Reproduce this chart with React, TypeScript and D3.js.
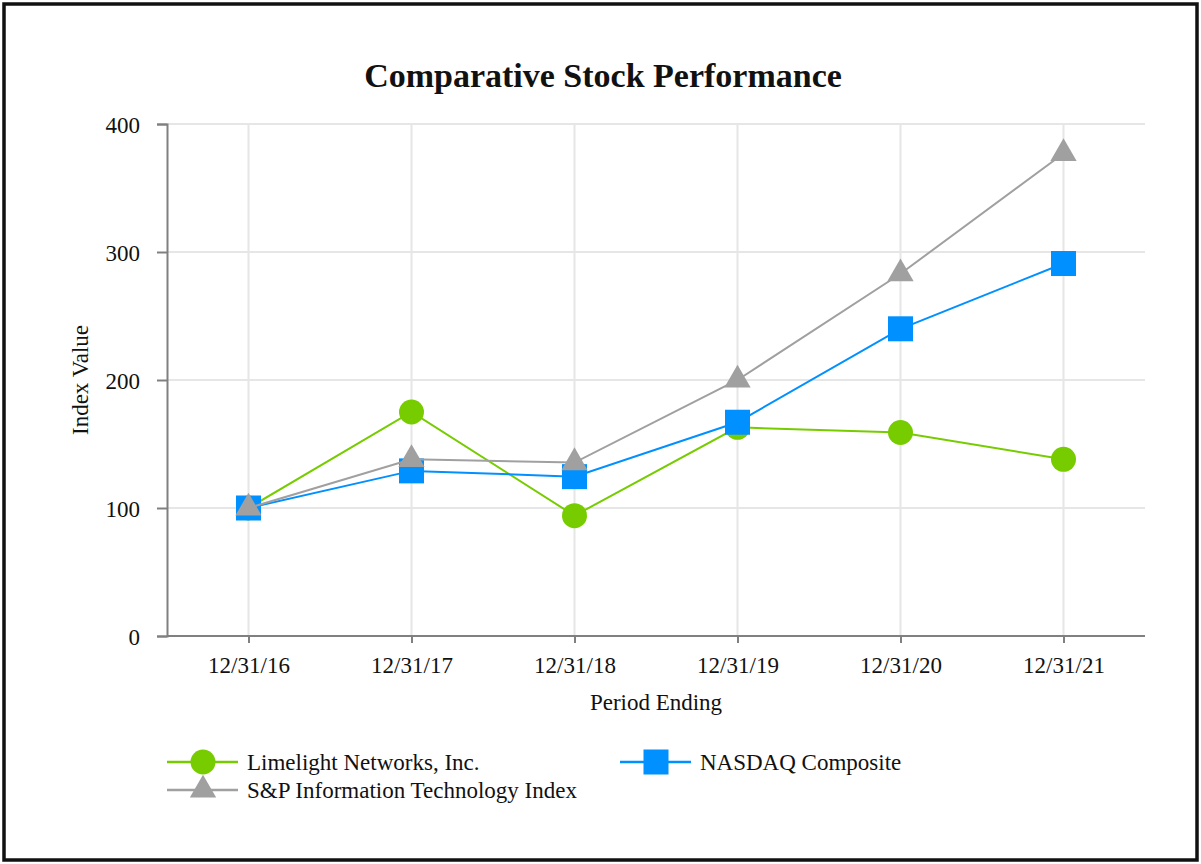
import React, { useRef, useEffect } from "react";
import * as d3 from "d3";

const periods = ["12/31/16", "12/31/17", "12/31/18", "12/31/19", "12/31/20", "12/31/21"];
const limelight = [100, 175, 94, 163, 159, 138];
const nasdaq = [100, 129, 124.5, 167, 240, 291];
const spIT = [100, 138, 135.5, 200, 283, 377];
const yTicks = [0, 100, 200, 300, 400];

const seriesList = [
  { name: "Limelight Networks, Inc.", values: limelight, color: "#77cc00", shape: "circle" },
  { name: "S&P Information Technology Index", values: spIT, color: "#a0a0a0", shape: "triangle" },
  { name: "NASDAQ Composite", values: nasdaq, color: "#0090ff", shape: "square" },
];

const FONT = "'Liberation Serif', 'Times New Roman', serif";
const FS = 23;

const App = () => {
  const svgRef = useRef<SVGSVGElement>(null);

  useEffect(() => {
    const svg = d3.select(svgRef.current);
    svg.selectAll("*").remove();

    const width = 1201;
    const height = 864;
    const margin = { top: 124, right: 56, bottom: 228, left: 167 };

    // frame
    svg
      .append("rect")
      .attr("x", 4)
      .attr("y", 4)
      .attr("width", width - 8)
      .attr("height", height - 8)
      .attr("fill", "white")
      .attr("stroke", "#111")
      .attr("stroke-width", 3.5);

    const x = d3
      .scalePoint<string>()
      .domain(periods)
      .range([margin.left, width - margin.right])
      .padding(0.5);

    const y = d3
      .scaleLinear()
      .domain([0, 400])
      .range([height - margin.bottom, margin.top]);

    // grid
    svg
      .append("g")
      .selectAll("line.h")
      .data(yTicks.slice(1))
      .join("line")
      .attr("x1", margin.left)
      .attr("x2", width - margin.right)
      .attr("y1", (d) => y(d))
      .attr("y2", (d) => y(d))
      .attr("stroke", "#e6e6e6")
      .attr("stroke-width", 2);

    svg
      .append("g")
      .selectAll("line.v")
      .data(periods)
      .join("line")
      .attr("x1", (d) => x(d)!)
      .attr("x2", (d) => x(d)!)
      .attr("y1", margin.top)
      .attr("y2", height - margin.bottom)
      .attr("stroke", "#e6e6e6")
      .attr("stroke-width", 2);

    // axes
    const yAxis = svg
      .append("g")
      .attr("transform", `translate(${margin.left},0)`)
      .call(d3.axisLeft(y).tickValues(yTicks).tickSize(10).tickPadding(17));
    yAxis.select(".domain").attr("stroke", "#808080").attr("stroke-width", 2);
    yAxis.selectAll(".tick line").attr("stroke", "#808080").attr("stroke-width", 2);
    yAxis
      .selectAll(".tick text")
      .attr("font-family", FONT)
      .attr("font-size", FS)
      .attr("fill", "#111")
      .attr("dy", "0.35em");

    const xAxis = svg
      .append("g")
      .attr("transform", `translate(0,${height - margin.bottom})`)
      .call(d3.axisBottom(x).tickSize(7).tickSizeOuter(0).tickPadding(14));
    xAxis
      .select(".domain")
      .attr("d", `M${margin.left},0H${width - margin.right}`)
      .attr("stroke", "#808080")
      .attr("stroke-width", 2);
    xAxis.selectAll(".tick line").attr("stroke", "#808080").attr("stroke-width", 2);
    xAxis
      .selectAll(".tick text")
      .attr("font-family", FONT)
      .attr("font-size", FS)
      .attr("fill", "#111");

    // title and axis labels
    svg
      .append("text")
      .attr("x", 603)
      .attr("y", 87)
      .attr("text-anchor", "middle")
      .attr("font-family", FONT)
      .attr("font-weight", "bold")
      .attr("font-size", 34)
      .attr("fill", "#111")
      .text("Comparative Stock Performance");

    svg
      .append("text")
      .attr("transform", `translate(88,${(margin.top + height - margin.bottom) / 2}) rotate(-90)`)
      .attr("text-anchor", "middle")
      .attr("font-family", FONT)
      .attr("font-size", FS)
      .attr("fill", "#111")
      .text("Index Value");

    svg
      .append("text")
      .attr("x", (margin.left + width - margin.right) / 2)
      .attr("y", 710)
      .attr("text-anchor", "middle")
      .attr("font-family", FONT)
      .attr("font-size", FS)
      .attr("fill", "#111")
      .text("Period Ending");

    const drawMarker = (g: any, shape: string, color: string, cx: number, cy: number) => {
      if (shape === "circle") {
        g.append("circle").attr("cx", cx).attr("cy", cy).attr("r", 12.5).attr("fill", color);
      } else if (shape === "square") {
        g.append("rect")
          .attr("x", cx - 12.5)
          .attr("y", cy - 12.5)
          .attr("width", 25)
          .attr("height", 25)
          .attr("fill", color);
      } else {
        g.append("path")
          .attr("d", d3.symbol(d3.symbolTriangle, 300)())
          .attr("transform", `translate(${cx},${cy})`)
          .attr("fill", color);
      }
    };

    const line = d3
      .line<number>()
      .x((_, i) => x(periods[i])!)
      .y((d) => y(d));

    // draw order: limelight, nasdaq, s&p on top
    const drawOrder = [seriesList[0], seriesList[2], seriesList[1]];
    drawOrder.forEach((s) => {
      const g = svg.append("g");
      g.append("path")
        .datum(s.values)
        .attr("fill", "none")
        .attr("stroke", s.color)
        .attr("stroke-width", 2)
        .attr("d", line);
      s.values.forEach((v, i) => drawMarker(g, s.shape, s.color, x(periods[i])!, y(v)));
    });

    // legend
    const legendPos = [
      { lx: 167, ly: 762 },
      { lx: 167, ly: 790 },
      { lx: 620, ly: 762 },
    ];
    seriesList.forEach((s, i) => {
      const { lx, ly } = legendPos[i];
      const g = svg.append("g");
      g.append("line")
        .attr("x1", lx)
        .attr("x2", lx + 71)
        .attr("y1", ly)
        .attr("y2", ly)
        .attr("stroke", s.color)
        .attr("stroke-width", 2.5);
      drawMarker(g, s.shape, s.color, lx + 36, ly);
      g.append("text")
        .attr("x", lx + 80)
        .attr("y", ly + 8)
        .attr("font-family", FONT)
        .attr("font-size", FS)
        .attr("fill", "#111")
        .text(s.name);
    });
  }, []);

  return (
    <svg
      ref={svgRef}
      width={1201}
      height={864}
      style={{ position: "absolute", left: 0, top: 0 }}
    ></svg>
  );
};

export default App;
